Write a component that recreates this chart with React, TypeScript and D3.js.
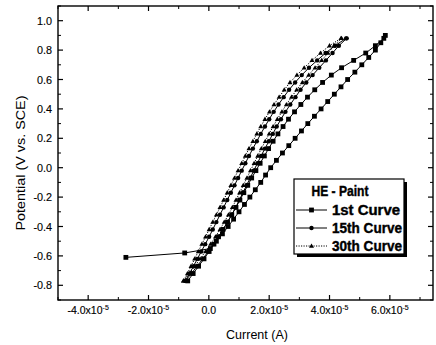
import React from 'react';
import * as d3 from 'd3';

// Current values in units of 1e-5 A, potential in V vs. SCE
const potentialStart1 = [-0.61, -0.58];
const currentStart1 = [-2.75, -0.8];

const potentialUp1 = [-0.55, -0.5, -0.45, -0.4, -0.35, -0.3, -0.25, -0.2, -0.15, -0.1, -0.05, 0.0, 0.05, 0.1, 0.15, 0.2, 0.25, 0.3, 0.35, 0.4, 0.45, 0.5, 0.55, 0.6, 0.65, 0.7, 0.75, 0.8, 0.85, 0.9];
const currentUp1 = [0.05, 0.25, 0.45, 0.64, 0.82, 1.0, 1.18, 1.36, 1.54, 1.72, 1.88, 2.05, 2.24, 2.44, 2.65, 2.86, 3.07, 3.28, 3.5, 3.72, 3.94, 4.16, 4.38, 4.6, 4.84, 5.07, 5.3, 5.52, 5.7, 5.85];

const potentialGrid = [-0.77, -0.72, -0.67, -0.62, -0.57, -0.52, -0.47, -0.42, -0.37, -0.32, -0.27, -0.22, -0.17, -0.12, -0.07, -0.02, 0.03, 0.08, 0.13, 0.18, 0.23, 0.28, 0.33, 0.38, 0.43, 0.48, 0.53, 0.58, 0.63, 0.68, 0.73, 0.78, 0.83, 0.88];

const currentDown1 = [-0.7, -0.52, -0.34, -0.16, 0.01, 0.17, 0.32, 0.47, 0.62, 0.76, 0.9, 1.03, 1.16, 1.29, 1.42, 1.56, 1.7, 1.84, 1.98, 2.13, 2.29, 2.46, 2.64, 2.84, 3.05, 3.27, 3.51, 3.77, 4.06, 4.4, 4.8, 5.2, 5.52, 5.8];

const currentUp15 = [-0.78, -0.58, -0.39, -0.2, -0.02, 0.16, 0.32, 0.47, 0.62, 0.76, 0.89, 1.01, 1.13, 1.25, 1.37, 1.49, 1.61, 1.73, 1.86, 1.99, 2.12, 2.25, 2.39, 2.54, 2.7, 2.87, 3.04, 3.23, 3.44, 3.66, 3.88, 4.1, 4.31, 4.57];
const currentDown15 = [-0.78, -0.64, -0.51, -0.38, -0.25, -0.12, 0.01, 0.13, 0.25, 0.37, 0.49, 0.61, 0.73, 0.85, 0.97, 1.09, 1.21, 1.33, 1.46, 1.59, 1.72, 1.86, 2.0, 2.15, 2.31, 2.48, 2.66, 2.86, 3.08, 3.32, 3.59, 3.87, 4.18, 4.55];

const currentUp30 = [-0.84, -0.65, -0.47, -0.29, -0.11, 0.06, 0.22, 0.37, 0.51, 0.65, 0.78, 0.9, 1.02, 1.14, 1.26, 1.38, 1.5, 1.62, 1.74, 1.87, 2.0, 2.13, 2.27, 2.42, 2.57, 2.74, 2.91, 3.1, 3.31, 3.52, 3.74, 3.95, 4.15, 4.4];
const currentDown30 = [-0.84, -0.71, -0.59, -0.47, -0.35, -0.23, -0.11, 0.01, 0.13, 0.25, 0.37, 0.49, 0.61, 0.73, 0.85, 0.97, 1.09, 1.21, 1.33, 1.46, 1.59, 1.72, 1.86, 2.01, 2.16, 2.33, 2.5, 2.69, 2.92, 3.16, 3.42, 3.7, 4.0, 4.38];

const xTickValues = [-4, -2, 0, 2, 4, 6];
const yTickValues = [-0.8, -0.6, -0.4, -0.2, 0.0, 0.2, 0.4, 0.6, 0.8, 1.0];
const legendTitle = 'HE - Paint';
const seriesNames = ['1st Curve', '15th Curve', '30th Curve'];

const W = 436;
const H = 345;
const L = 58, R = 433, T = 6, B = 300;
const FONT = '"Liberation Sans", Arial, Helvetica, sans-serif';

const x = d3.scaleLinear().domain([-5, 7.43]).range([L, R]);
const y = d3.scaleLinear().domain([-0.9, 1.1]).range([B, T]);

type P = [number, number];
const zip = (cs: number[], ps: number[]): P[] => cs.map((c, i) => [c, ps[i]]);

const curve1: P[] = [
  ...zip(currentStart1, potentialStart1),
  ...zip(currentUp1, potentialUp1),
  ...zip(currentDown1, potentialGrid).reverse(),
];
const curve15: P[] = [...zip(currentUp15, potentialGrid), ...zip(currentDown15, potentialGrid).reverse()];
const curve30: P[] = [...zip(currentUp30, potentialGrid), ...zip(currentDown30, potentialGrid).reverse()];

const line = d3.line<P>().x((d) => x(d[0])).y((d) => y(d[1]));

function Marker({ kind, cx, cy }: { kind: string; cx: number; cy: number }) {
  if (kind === 'square') return <rect x={cx - 2.4} y={cy - 2.4} width={4.8} height={4.8} fill="#000" />;
  if (kind === 'circle') return <circle cx={cx} cy={cy} r={2.2} fill="#000" />;
  return <path d={`M${cx},${cy - 2.6}L${cx + 2.5},${cy + 1.7}L${cx - 2.5},${cy + 1.7}Z`} fill="#000" />;
}

export default function App() {
  const xMinor = d3.range(-5, 7.5, 1).filter((v) => !xTickValues.includes(v));
  const yMinor = d3.range(-9, 12, 2).map((v) => v / 10);
  const series = [
    { data: curve30, kind: 'triangle', dash: '1.2,1.3' },
    { data: curve15, kind: 'circle', dash: undefined },
    { data: curve1, kind: 'square', dash: undefined },
  ];
  const legendItems = [
    { name: seriesNames[0], kind: 'square', dash: undefined, cy: 210 },
    { name: seriesNames[1], kind: 'circle', dash: undefined, cy: 228 },
    { name: seriesNames[2], kind: 'triangle', dash: '1.2,1.3', cy: 246 },
  ];
  return (
    <svg width={W} height={H} style={{ position: 'absolute', left: 0, top: 0, background: '#fff' }} fontFamily={FONT}>
      <rect x={0} y={0} width={W} height={H} fill="#fff" />
      {/* data */}
      {series.map((s, i) => (
        <g key={i}>
          <path d={line(s.data) || ''} fill="none" stroke="#000" strokeWidth={1} strokeDasharray={s.dash} />
          {s.data.map((d, j) => (
            <Marker key={j} kind={s.kind} cx={x(d[0])} cy={y(d[1])} />
          ))}
        </g>
      ))}
      {/* frame */}
      <rect x={L} y={T} width={R - L} height={B - T} fill="none" stroke="#000" strokeWidth={1.4} />
      {/* x ticks */}
      {xTickValues.map((v) => (
        <g key={'xt' + v}>
          <line x1={x(v)} x2={x(v)} y1={B} y2={B - 5} stroke="#000" strokeWidth={1.2} />
          <line x1={x(v)} x2={x(v)} y1={T} y2={T + 5} stroke="#000" strokeWidth={1.2} />
          <text x={x(v)} y={314} textAnchor="middle" fontSize={10.5} fill="#000" stroke="#000" strokeWidth={0.15}>
            {v === 0 ? '0.0' : (
              <>
                {v.toFixed(1) + 'x10'}
                <tspan dy={-4.5} fontSize={7}>-5</tspan>
              </>
            )}
          </text>
        </g>
      ))}
      {xMinor.map((v) => (
        <g key={'xm' + v}>
          <line x1={x(v)} x2={x(v)} y1={B} y2={B - 3} stroke="#000" strokeWidth={1} />
          <line x1={x(v)} x2={x(v)} y1={T} y2={T + 3} stroke="#000" strokeWidth={1} />
        </g>
      ))}
      {/* y ticks */}
      {yTickValues.map((v) => (
        <g key={'yt' + v}>
          <line x1={L} x2={L + 5} y1={y(v)} y2={y(v)} stroke="#000" strokeWidth={1.2} />
          <line x1={R} x2={R - 5} y1={y(v)} y2={y(v)} stroke="#000" strokeWidth={1.2} />
          <text x={52} y={y(v) + 4} textAnchor="end" fontSize={10.8} fill="#000" stroke="#000" strokeWidth={0.15}>
            {v.toFixed(1)}
          </text>
        </g>
      ))}
      {yMinor.map((v) => (
        <g key={'ym' + v}>
          <line x1={L} x2={L + 3} y1={y(v)} y2={y(v)} stroke="#000" strokeWidth={1} />
          <line x1={R} x2={R - 3} y1={y(v)} y2={y(v)} stroke="#000" strokeWidth={1} />
        </g>
      ))}
      {/* axis titles */}
      <text x={257} y={339} textAnchor="middle" fontSize={12.5} fill="#000">Current (A)</text>
      <text transform="translate(24.5,163) rotate(-90)" textAnchor="middle" fontSize={12.8} fill="#000" textLength={135} lengthAdjust="spacingAndGlyphs">
        Potential (V vs. SCE)
      </text>
      {/* legend */}
      <rect x={297} y={182} width={110} height={75} fill="#000" />
      <rect x={294} y={179} width={110} height={75} fill="#fff" stroke="#000" strokeWidth={1.2} />
      <text x={311.5} y={196} fontSize={14} fontWeight="bold" fill="#000" stroke="#000" strokeWidth={0.4} textLength={57} lengthAdjust="spacingAndGlyphs">{legendTitle}</text>
      {legendItems.map((it) => (
        <g key={it.name}>
          <line x1={296} x2={327} y1={it.cy} y2={it.cy} stroke="#000" strokeWidth={1} strokeDasharray={it.dash} />
          <Marker kind={it.kind} cx={311.5} cy={it.cy} />
          <text x={332} y={it.cy + 5} fontSize={14} fontWeight="bold" fill="#000" stroke="#000" strokeWidth={0.4} textLength={it.name.length > 9 ? 70 : 68} lengthAdjust="spacingAndGlyphs">
            {it.name}
          </text>
        </g>
      ))}
    </svg>
  );
}
